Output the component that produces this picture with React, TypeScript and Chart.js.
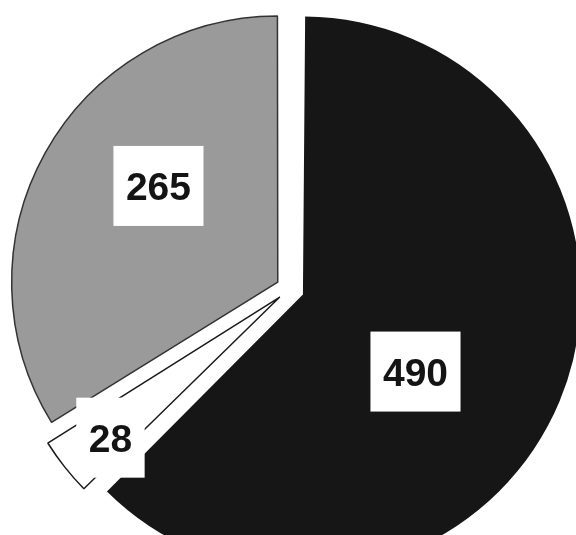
import React, { useEffect, useRef } from "react";
import { Chart, ArcElement, PieController } from "chart.js";

Chart.register(ArcElement, PieController);

// ---- data ----
const categories = ["Segment A", "Segment B", "Segment C"];
const values = [490, 28, 265];

// ---- styles ----
const sliceColors = ["#161616", "#ffffff", "#9a9a9a"];
const sliceBorderColors = ["#161616", "#1a1a1a", "#333333"];
const sliceBorderWidths = [0, 1.5, 1.5];
const sliceOffsets = [56, 52, 56];
const labelAngleShift = [10.7, -1.35, 9.0];
const labelRadiusFrac = [0.569, 0.883, 0.633];

const boxLabelPlugin = {
  id: "boxLabels",
  afterDatasetsDraw(chart: any) {
    const ctx: CanvasRenderingContext2D = chart.ctx;
    const meta = chart.getDatasetMeta(0);
    const data = chart.data.datasets[0].data;
    const fontSize = 39;
    meta.data.forEach((arc: any, i: number) => {
      const { x, y, startAngle, endAngle, outerRadius } = arc.getProps(
        ["x", "y", "startAngle", "endAngle", "outerRadius"],
        true
      );
      const ang = (startAngle + endAngle) / 2 + (labelAngleShift[i] * Math.PI) / 180;
      const r = labelRadiusFrac[i] * outerRadius;
      const cx = x + Math.cos(ang) * r;
      const cy = y + Math.sin(ang) * r;
      const text = String(data[i]);
      ctx.save();
      ctx.font = `bold ${fontSize}px "Liberation Sans", Arial, sans-serif`;
      const tw = ctx.measureText(text).width;
      const w = tw + 25;
      const h = 80;
      ctx.fillStyle = "#ffffff";
      ctx.fillRect(cx - w / 2, cy - h / 2, w, h);
      ctx.fillStyle = "#141414";
      ctx.textAlign = "center";
      ctx.textBaseline = "alphabetic";
      ctx.fillText(text, cx, cy + fontSize * 0.358);
      ctx.restore();
    });
  },
};

export default function App() {
  const ref = useRef<HTMLCanvasElement | null>(null);

  useEffect(() => {
    if (!ref.current) return;
    const chart = new Chart(ref.current, {
      type: "pie",
      data: {
        labels: categories,
        datasets: [
          {
            data: values,
            backgroundColor: sliceColors,
            borderColor: sliceBorderColors,
            borderWidth: sliceBorderWidths,
            offset: sliceOffsets,
          },
        ],
      },
      options: {
        responsive: false,
        animation: false,
        radius: 264,
        layout: { padding: 0 },
        plugins: {
          legend: { display: false },
          tooltip: { enabled: false },
        },
        events: [],
      } as any,
      plugins: [boxLabelPlugin],
    });
    return () => chart.destroy();
  }, []);

  return (
    <div
      style={{
        position: "absolute",
        left: 0,
        top: 0,
        width: 576,
        height: 535,
        overflow: "hidden",
        background: "#ffffff",
      }}
    >
      <canvas ref={ref} width={580} height={578} style={{ width: 580, height: 578, display: "block" }} />
    </div>
  );
}
